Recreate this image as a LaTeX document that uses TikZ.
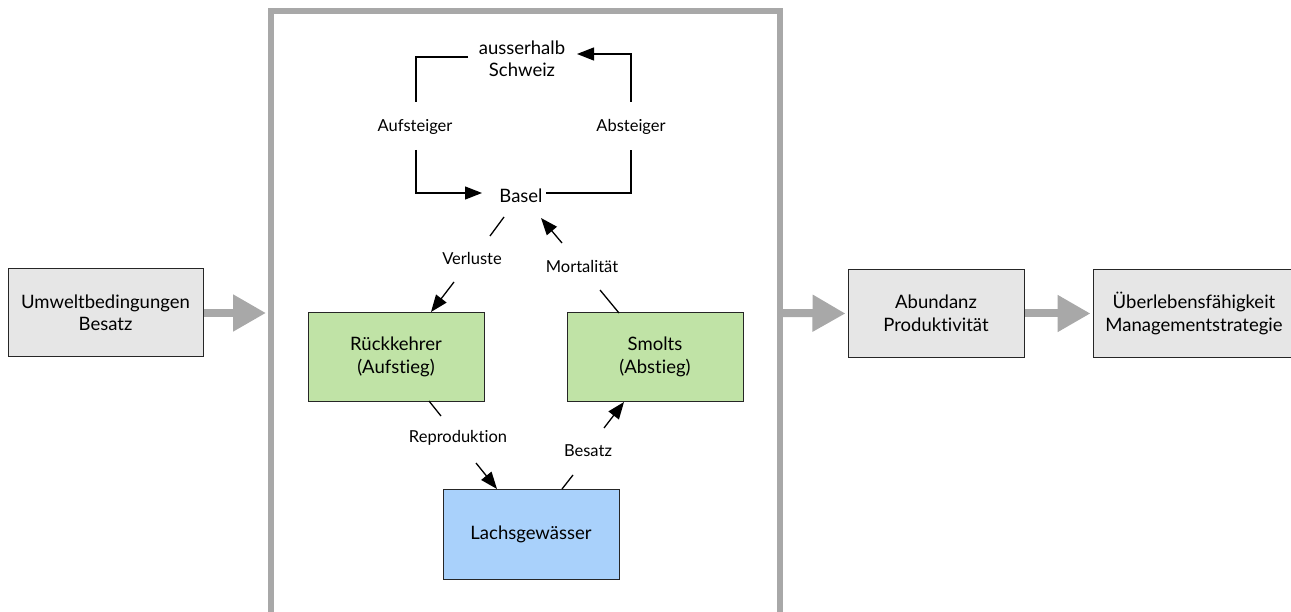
\documentclass[tikz,border=0pt]{standalone}
\usepackage{fontspec}
\setmainfont{Lato}[Ligatures=NoCommon]
\usetikzlibrary{arrows.meta}
\definecolor{boxgray}{HTML}{E6E6E6}
\definecolor{boxgreen}{HTML}{C0E3A6}
\definecolor{boxblue}{HTML}{A9D1FB}
\definecolor{framegray}{HTML}{A8A8A8}
\tikzset{
  box/.style={draw=black!85, line width=1pt, align=center, inner sep=0pt,
    font=\fontsize{18.5}{22.5}\selectfont},
  graybox/.style={box, fill=boxgray, minimum height=88pt},
  greenbox/.style={box, fill=boxgreen, minimum width=176pt, minimum height=88pt},
  bluebox/.style={box, fill=boxblue, minimum width=176pt, minimum height=90pt},
  place/.style={align=center, inner sep=0pt, font=\fontsize{18.5}{22.5}\selectfont},
  lbl/.style={inner sep=0pt, font=\fontsize{16.5}{20}\selectfont},
  flow/.style={line width=1.3pt, black},
  flowarrow/.style={flow, -{Triangle[length=17pt,width=13pt]}},
  bigarrow/.style={line width=8pt, framegray, -{Triangle[length=33pt,width=35pt]}},
  frame/.style={line width=6pt, framegray}
}
\begin{document}
\begin{tikzpicture}[x=1pt, y=-1pt]
\useasboundingbox (0,0) rectangle (1291,612);
\clip (0,0) rectangle (1291,612);

% outer boxes
\node[graybox, minimum width=195pt] (umwelt) at (105.5,313) {Umweltbedingungen\\Besatz};
\node[graybox, minimum width=176pt] (abund) at (936,313.5) {Abundanz\\Produktivität};
\node[graybox, minimum width=202pt] (ueber) at (1194,313.5) {Überlebensfähigkeit\\Managementstrategie};

% open frame around the salmon cycle
\coordinate (fbl) at (270.5,620);
\coordinate (ftl) at (270.5,11);
\coordinate (ftr) at (779.5,11);
\coordinate (fbr) at (779.5,620);
\draw[frame] (fbl) -- (ftl) -- (ftr) -- (fbr);

% flows in and out of the frame
\coordinate (inL) at (266,313);
\coordinate (outR) at (782,313);
\draw[bigarrow] (umwelt.east) -- (inL);
\draw[bigarrow] (outR) -- ([xshift=-2pt]abund.west);
\draw[bigarrow] (abund.east) -- ([xshift=-2pt]ueber.west);

% places
\node[place] (auss) at (522,59) {ausserhalb\\Schweiz};
\node[place] (basel) at (521,196) {Basel};

% stages
\node[greenbox] (rueck) at (396,357) {Rückkehrer\\(Aufstieg)};
\node[greenbox] (smolts) at (655,357) {Smolts\\(Abstieg)};
\node[bluebox] (lachs) at (531,534) {Lachsgewässer};

% loop Basel <-> outside Switzerland
\node[lbl] (auf) at (415,127) {Aufsteiger};
\node[lbl] (ab) at (631,127) {Absteiger};
\coordinate (a1) at (468,57);
\coordinate (a2) at (416,57);
\coordinate (a3) at (416,102);
\coordinate (a4) at (416,150);
\coordinate (a5) at (416,193);
\coordinate (a6) at (482,193);
\draw[flow] (a1) -- (a2) -- (a3);
\draw[flowarrow] (a4) -- (a5) -- (a6);
\coordinate (b1) at (546,193);
\coordinate (b2) at (631,193);
\coordinate (b3) at (631,150);
\coordinate (b4) at (631,102);
\coordinate (b5) at (631,54);
\coordinate (b6) at (577,54);
\draw[flow] (b1) -- (b2) -- (b3);
\draw[flowarrow] (b4) -- (b5) -- (b6);

% Basel <-> stages
\node[lbl] (verl) at (472,258) {Verluste};
\node[lbl] (mort) at (582,266) {Mortalität};
\coordinate (v1) at (504,217);
\coordinate (v2) at (490,236);
\coordinate (v3) at (454,282);
\coordinate (v4) at (431,312);
\draw[flow] (v1) -- (v2);
\draw[flowarrow] (v3) -- (v4);
\coordinate (m1) at (619,313);
\coordinate (m2) at (600,290);
\coordinate (m3) at (562,243);
\coordinate (m4) at (541,218);
\draw[flow] (m1) -- (m2);
\draw[flowarrow] (m3) -- (m4);

% stages <-> salmon waters
\node[lbl] (repro) at (458,438) {Reproduktion};
\node[lbl] (besatz) at (588,451) {Besatz};
\coordinate (r1) at (429,401);
\coordinate (r2) at (441,416);
\coordinate (r3) at (476,463);
\coordinate (r4) at (497,489);
\draw[flow] (r1) -- (r2);
\draw[flowarrow] (r3) -- (r4);
\coordinate (s1) at (562,489);
\coordinate (s2) at (573,475);
\coordinate (s3) at (604,428);
\coordinate (s4) at (624,402);
\draw[flow] (s1) -- (s2);
\draw[flowarrow] (s3) -- (s4);
\end{tikzpicture}
\end{document}
